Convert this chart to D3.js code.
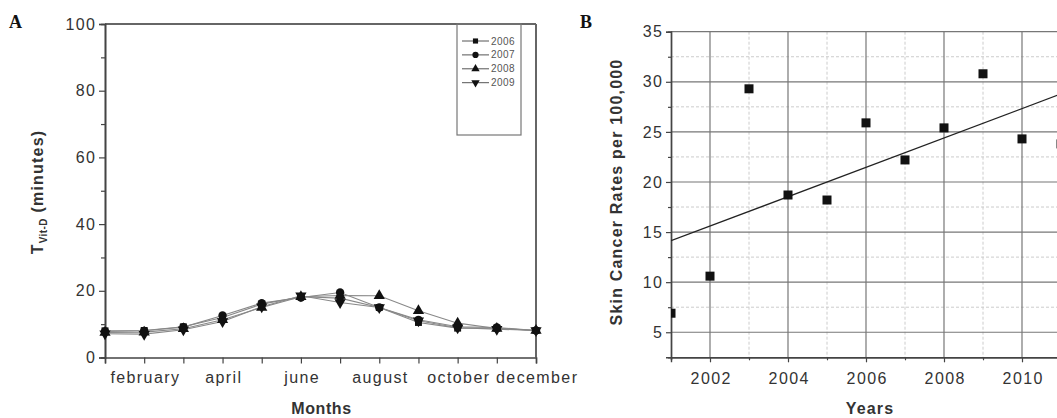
<!DOCTYPE html>
<html><head><meta charset="utf-8">
<script src="https://cdn.jsdelivr.net/npm/d3@7"></script>
<style>body{margin:0;background:#fff}svg{display:block}</style>
</head><body>
<svg id="c" width="1057" height="418"></svg>
<script>
// ---- Panel A data ----
const months = [1,2,3,4,5,6,7,8,9,10,11,12];
const monthLabels = ["","february","","april","","june","","august","","october","","december"];
const yearsA = ["2006","2007","2008","2009"];
const v2006 = [8.0, 8.1, 9.2, 12.0, 16.0, 18.2, 17.8, 15.0, 10.5, 8.8, 8.8, 8.1];
const v2007 = [7.8, 8.0, 9.1, 12.6, 16.3, 18.0, 19.5, 15.0, 11.3, 9.2, 9.0, 8.1];
const v2008 = [7.5, 7.6, 8.6, 11.3, 15.0, 18.2, 18.6, 18.5, 14.0, 10.3, 8.7, 8.1];
const v2009 = [7.1, 7.0, 8.3, 10.8, 15.2, 18.5, 16.5, 15.0, 11.0, 8.9, 8.5, 8.1];
const yTicksA = [0,20,40,60,80,100];
// ---- Panel B data ----
const yearsB = [2001,2002,2003,2004,2005,2006,2007,2008,2009,2010,2011];
const rates = [6.9, 10.6, 29.3, 18.7, 18.2, 25.9, 22.2, 25.4, 30.8, 24.3, 23.8];
const xTicksB = [2002,2004,2006,2008,2010];
const yTicksB = [5,10,15,20,25,30,35];

const svg = d3.select("#c");
const font = "Arial, 'Liberation Sans', sans-serif";
const axisCol = "#444", textCol = "#333";
const LS = 1.4;

function styleTicks(g){
  g.selectAll(".tick text").attr("font-family",font).attr("font-size",16)
   .attr("letter-spacing",LS).attr("fill",textCol);
}

// ===== Panel A =====
const A = {l:105, r:536, t:24, b:357.5};
const xA = d3.scaleLinear().domain([1,12]).range([A.l, A.r]);
const yA = d3.scaleLinear().domain([0,100]).range([A.b, A.t]);
const gA = svg.append("g");

gA.append("line").attr("x1",A.l).attr("x2",A.r).attr("y1",A.t).attr("y2",A.t).attr("stroke","#666").attr("stroke-width",2);
gA.append("line").attr("x1",A.r).attr("x2",A.r).attr("y1",A.t).attr("y2",A.b).attr("stroke","#666").attr("stroke-width",2);

gA.append("g").attr("class","yax").attr("transform",`translate(${A.l},0)`)
  .call(d3.axisLeft(yA).tickValues(yTicksA).tickSize(6).tickPadding(5));
gA.append("g").attr("transform",`translate(${A.l},0)`)
  .call(d3.axisLeft(yA).tickValues([10,30,50,70,90]).tickSize(4).tickFormat(""));
gA.append("g").attr("class","xax").attr("transform",`translate(0,${A.b})`)
  .call(d3.axisBottom(xA).tickValues(months).tickSize(6).tickPadding(8).tickFormat((d,i)=>monthLabels[i]));
gA.selectAll(".domain").attr("stroke",axisCol).attr("stroke-width",1.6);
gA.selectAll(".tick line").attr("stroke",axisCol).attr("stroke-width",1.2);
styleTicks(gA);
gA.select(".yax").selectAll(".tick text").attr("dx",LS+1);
gA.select(".xax").selectAll(".tick text").attr("dx",LS/2);

const seriesA = [v2006, v2007, v2008, v2009];
const symA = [d3.symbolSquare, d3.symbolCircle, d3.symbolTriangle, d3.symbolTriangle];
const rotA = [0,0,0,180];
const sizeA = [48, 55, 55, 55];
const line = d3.line().x((d,i)=>xA(months[i])).y(d=>yA(d));
seriesA.forEach((s,k)=>{
  gA.append("path").datum(s).attr("d",line).attr("fill","none").attr("stroke","#888").attr("stroke-width",1.1);
});
seriesA.forEach((s,k)=>{
  gA.selectAll(null).data(s).enter().append("path")
    .attr("d", d3.symbol().type(symA[k]).size(sizeA[k]))
    .attr("transform",(d,i)=>`translate(${xA(months[i])},${yA(d)}) rotate(${rotA[k]})`)
    .attr("fill","#111");
});

// legend
const lg = gA.append("g");
lg.append("rect").attr("x",457).attr("y",A.t).attr("width",64).attr("height",111)
  .attr("fill","none").attr("stroke","#777").attr("stroke-width",1.2);
yearsA.forEach((y,k)=>{
  const yy = 41 + k*13.9;
  lg.append("line").attr("x1",462).attr("x2",489).attr("y1",yy).attr("y2",yy).attr("stroke","#555").attr("stroke-width",1);
  lg.append("path").attr("d",d3.symbol().type(symA[k]).size(sizeA[k]*0.55))
    .attr("transform",`translate(475.5,${yy}) rotate(${rotA[k]})`).attr("fill","#111");
  lg.append("text").attr("x",491).attr("y",yy).attr("dy","0.35em")
    .attr("font-family",font).attr("font-size",10).attr("letter-spacing",0.4).attr("fill","#555").text(y);
});

// axis titles A
gA.append("text").attr("x",(A.l+A.r)/2 + 1).attr("y",414).attr("text-anchor","middle")
  .attr("font-family",font).attr("font-weight","bold").attr("font-size",16).attr("letter-spacing",0.6)
  .attr("fill",textCol).text("Months");
const tA = gA.append("text").attr("transform","translate(43,192) rotate(-90)").attr("text-anchor","middle")
  .attr("font-family",font).attr("font-weight","bold").attr("font-size",16).attr("letter-spacing",1.2)
  .attr("fill",textCol);
tA.append("tspan").text("T");
tA.append("tspan").attr("font-size",10).attr("letter-spacing",0.4).attr("dy",4).text("Vit-D");
tA.append("tspan").attr("dy",-4).text(" (minutes)");

svg.append("text").attr("x",9).attr("y",28).attr("font-family","'Liberation Serif', 'DejaVu Serif', serif")
  .attr("font-weight","bold").attr("font-size",18).attr("fill","#111").text("A");

// ===== Panel B =====
const B = {l:671, r:1061, t:31.7, b:357.3};
const xB = d3.scaleLinear().domain([2001,2011]).range([B.l, B.r]);
const yB = d3.scaleLinear().domain([2.5,35]).range([B.b, B.t]);
const gB = svg.append("g");
svg.append("defs").append("clipPath").attr("id","clipB").append("rect")
  .attr("x",B.l).attr("y",B.t).attr("width",B.r-B.l).attr("height",B.b-B.t);

const minorX = [2003,2005,2007,2009,2011];
const minorY = [7.5,12.5,17.5,22.5,27.5,32.5];
gB.selectAll(null).data(minorX).enter().append("line")
  .attr("x1",d=>xB(d)).attr("x2",d=>xB(d)).attr("y1",B.t).attr("y2",B.b)
  .attr("stroke","#ccc").attr("stroke-width",1).attr("stroke-dasharray","3,2");
gB.selectAll(null).data(minorY).enter().append("line")
  .attr("x1",B.l).attr("x2",B.r).attr("y1",d=>yB(d)).attr("y2",d=>yB(d))
  .attr("stroke","#ccc").attr("stroke-width",1).attr("stroke-dasharray","3,2");
gB.selectAll(null).data(xTicksB).enter().append("line")
  .attr("x1",d=>xB(d)).attr("x2",d=>xB(d)).attr("y1",B.t).attr("y2",B.b)
  .attr("stroke","#777").attr("stroke-width",1.2);
gB.selectAll(null).data(yTicksB).enter().append("line")
  .attr("x1",B.l).attr("x2",B.r).attr("y1",d=>yB(d)).attr("y2",d=>yB(d))
  .attr("stroke","#777").attr("stroke-width",1.2);

gB.append("g").attr("class","yax").attr("transform",`translate(${B.l},0)`)
  .call(d3.axisLeft(yB).tickValues(yTicksB).tickSize(5).tickPadding(4));
gB.append("g").attr("transform",`translate(${B.l},0)`)
  .call(d3.axisLeft(yB).tickValues(minorY).tickSize(3).tickFormat(""));
gB.append("g").attr("class","xax").attr("transform",`translate(0,${B.b})`)
  .call(d3.axisBottom(xB).tickValues(xTicksB).tickSize(5).tickPadding(10).tickFormat(d3.format("d")));
gB.append("g").attr("transform",`translate(0,${B.b})`)
  .call(d3.axisBottom(xB).tickValues([2001,2003,2005,2007,2009]).tickSize(3).tickFormat(""));
gB.selectAll(".domain").attr("stroke",axisCol).attr("stroke-width",1.4);
gB.selectAll(".tick line").attr("stroke",axisCol).attr("stroke-width",1.2);
styleTicks(gB);
gB.select(".yax").selectAll(".tick text").attr("dx",LS);
gB.select(".xax").selectAll(".tick text").attr("dx",LS/2);

const mx = d3.mean(yearsB), my = d3.mean(rates);
const slope = d3.sum(yearsB, (x,i)=>(x-mx)*(rates[i]-my)) / d3.sum(yearsB, x=>(x-mx)*(x-mx));
const icpt = my - slope*mx;
const plot = gB.append("g").attr("clip-path","url(#clipB)");
plot.append("line").attr("x1",xB(2001)).attr("x2",xB(2011))
  .attr("y1",yB(icpt+slope*2001)).attr("y2",yB(icpt+slope*2011))
  .attr("stroke","#222").attr("stroke-width",1.3);
plot.selectAll(null).data(rates).enter().append("rect")
  .attr("x",(d,i)=>xB(yearsB[i])-4.5).attr("y",d=>yB(d)-4.5)
  .attr("width",9).attr("height",9).attr("fill","#111");

gB.append("text").attr("x",870).attr("y",414).attr("text-anchor","middle")
  .attr("font-family",font).attr("font-weight","bold").attr("font-size",16).attr("letter-spacing",1.2)
  .attr("fill",textCol).text("Years");
gB.append("text").attr("transform","translate(622,192) rotate(-90)").attr("text-anchor","middle")
  .attr("font-family",font).attr("font-weight","bold").attr("font-size",16).attr("letter-spacing",1.2)
  .attr("fill",textCol).text("Skin Cancer Rates per 100,000");
svg.append("text").attr("x",580).attr("y",28).attr("font-family","'Liberation Serif', 'DejaVu Serif', serif")
  .attr("font-weight","bold").attr("font-size",18).attr("fill","#111").text("B");
</script>
</body></html>
